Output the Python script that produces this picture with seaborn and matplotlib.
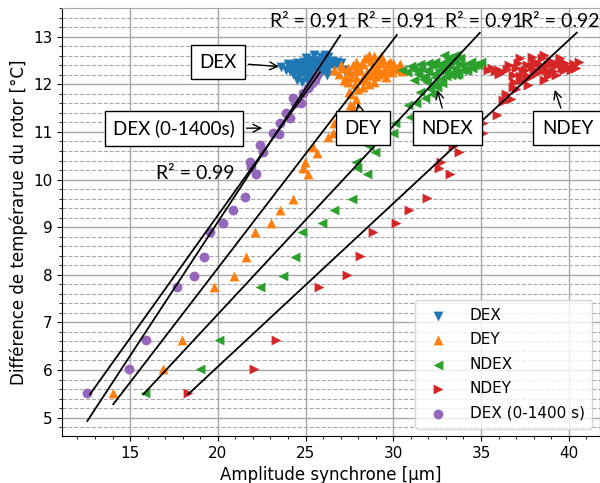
import numpy as np
import pandas as pd
import matplotlib
matplotlib.use('Agg')
import matplotlib.pyplot as plt
from matplotlib.ticker import MultipleLocator
import seaborn as sns

# --- data ---
dex_x = [23.6, 23.9, 24.1, 24.3, 24.4, 24.6, 24.7, 24.8, 24.9, 25.0, 25.1, 25.2, 25.3, 25.4,
         25.5, 25.6, 25.7, 25.8, 25.9, 26.0, 26.1, 26.2, 26.3, 26.5, 26.7, 26.9, 27.2, 24.5,
         24.8, 25.1, 25.4, 25.7, 26.0, 26.3, 25.0, 25.5, 26.0, 25.2, 25.8, 24.9]
dex_y = [12.36, 12.30, 12.28, 12.22, 12.35, 12.18, 12.30, 12.40, 12.25, 12.15, 12.32, 12.45,
         12.20, 12.38, 12.28, 12.50, 12.35, 12.42, 12.25, 12.55, 12.40, 12.47, 12.33, 12.50,
         12.42, 12.38, 12.30, 12.10, 12.05, 12.22, 12.12, 12.18, 12.30, 12.58, 12.40, 12.62,
         12.45, 12.05, 12.22, 12.48]
dex_cx = [24.2, 24.5, 24.7, 25.0, 25.3, 25.6, 25.9, 26.2, 26.4, 26.6, 24.4, 24.9, 25.3, 25.6,
          25.9, 26.1, 25.4, 25.1, 24.6, 26.8, 27.0, 25.7, 26.2, 24.0, 25.0]
dex_cy = [12.40, 12.45, 12.22, 12.35, 12.28, 12.22, 12.48, 12.30, 12.42, 12.36, 12.30, 12.20,
          12.52, 12.42, 12.58, 12.62, 12.00, 12.10, 12.38, 12.47, 12.45, 12.32, 12.20, 12.42,
          12.55]

dey_x = [14.04, 16.86, 17.94, 19.78, 20.92, 21.59, 22.10, 23.01, 23.54, 24.26, 24.83, 25.15,
         24.97, 25.44, 25.63, 26.29, 26.58, 26.62, 27.53,
         26.6, 26.9, 27.1, 27.3, 27.5, 27.7, 27.9, 28.1, 28.3, 28.5, 28.7, 28.9, 29.1, 29.3,
         29.5, 29.7, 29.9, 30.2, 30.5, 27.4, 27.8, 28.2, 28.6, 29.0, 29.4, 29.8, 28.0, 28.4,
         28.8, 27.6, 27.9, 27.7, 27.8, 27.5, 28.9, 29.2, 28.6, 29.6]
dey_y = [5.51, 6.02, 6.63, 7.74, 7.98, 8.38, 8.90, 9.08, 9.37, 9.60, 10.24, 10.12,
         10.36, 10.69, 10.56, 10.90, 10.97, 11.18, 11.57,
         12.30, 12.22, 12.35, 12.18, 12.28, 12.40, 12.15, 12.30, 12.42, 12.25, 12.50, 12.60,
         12.35, 12.45, 12.30, 12.38, 12.25, 12.32, 12.28, 12.05, 12.00, 12.12, 12.20, 12.18,
         12.52, 12.48, 11.90, 12.55, 12.35, 11.80, 11.70, 11.55, 11.45, 11.85, 12.05, 12.22,
         12.62, 12.15]
dey_cx = [27.0, 27.4, 27.8, 28.2, 28.5, 28.8, 29.1, 29.4, 29.7, 30.0, 30.3, 28.4, 28.9, 29.3,
          28.0, 27.6, 29.9, 30.4, 27.2, 28.6, 29.0, 27.9, 28.3]
dey_cy = [12.40, 12.35, 12.30, 12.45, 12.55, 12.20, 12.48, 12.25, 12.42, 12.45, 12.38, 12.10,
          12.30, 12.60, 12.38, 12.15, 12.35, 12.42, 12.10, 12.00, 12.40, 12.48, 11.95]

ndex_x = [15.85, 18.98, 20.08, 22.40, 23.70, 24.41, 24.81, 25.95, 26.62, 27.63, 28.48, 27.91,
          27.87, 28.95, 28.63, 30.00, 30.09, 30.95, 30.85,
          30.5, 30.8, 31.1, 31.4, 31.6, 31.8, 32.0, 32.2, 32.4, 32.6, 32.8, 33.0, 33.2, 33.4,
          33.6, 33.8, 34.0, 34.3, 34.6, 35.0, 31.9, 32.3, 32.7, 33.1, 33.5, 33.9, 32.5, 33.3,
          31.5, 31.8, 32.1, 31.3, 33.6, 34.2, 32.9, 31.2]
ndex_y = [5.51, 6.02, 6.63, 7.74, 7.98, 8.38, 8.90, 9.08, 9.37, 9.60, 10.12, 10.25,
          10.37, 10.57, 10.70, 10.98, 11.18, 11.32, 11.57,
          12.30, 12.25, 12.32, 12.22, 12.35, 12.18, 12.28, 12.40, 12.15, 12.30, 12.45, 12.35,
          12.50, 12.25, 12.62, 12.42, 12.38, 12.45, 12.40, 12.48, 12.05, 12.00, 12.12, 12.55,
          12.48, 12.30, 11.95, 12.20, 11.85, 11.72, 11.90, 11.60, 12.20, 12.30, 12.62, 12.10]
ndex_cx = [31.0, 31.5, 31.9, 32.3, 32.6, 32.9, 33.2, 33.5, 33.8, 34.1, 34.4, 34.8, 32.0, 32.4,
           33.0, 33.7, 31.7, 32.8, 33.4, 34.5, 32.2, 31.4, 33.0]
ndex_cy = [12.38, 12.42, 12.30, 12.22, 12.38, 12.28, 12.40, 12.35, 12.55, 12.30, 12.48, 12.40,
           12.45, 12.48, 12.18, 12.22, 12.12, 12.02, 12.60, 12.35, 11.80, 12.30, 12.40]

ndey_x = [18.32, 22.06, 23.31, 25.78, 27.34, 28.10, 28.82, 30.15, 30.91, 31.93, 33.23, 32.63,
          32.70, 33.76, 33.38, 35.09, 35.09, 35.89, 36.26,
          35.4, 35.8, 36.2, 36.5, 36.8, 37.0, 37.2, 37.4, 37.6, 37.8, 38.0, 38.2, 38.4, 38.6,
          38.8, 39.0, 39.2, 39.4, 39.6, 39.8, 40.1, 40.6, 36.9, 37.3, 37.7, 38.1, 38.5, 38.9,
          39.3, 36.4, 36.7, 37.0, 36.3, 38.6, 39.5, 37.9]
ndey_y = [5.51, 6.02, 6.63, 7.74, 7.99, 8.39, 8.90, 9.08, 9.37, 9.61, 10.12, 10.25,
          10.37, 10.57, 10.70, 10.98, 11.18, 11.36, 11.67,
          12.30, 12.28, 12.25, 12.32, 12.20, 12.35, 12.18, 12.28, 12.40, 12.15, 12.30, 12.45,
          12.35, 12.62, 12.40, 12.50, 12.38, 12.42, 12.35, 12.45, 12.30, 12.47, 12.05, 12.10,
          11.98, 12.22, 12.55, 12.25, 12.20, 11.80, 11.70, 11.90, 11.65, 12.10, 12.55, 12.58]
ndey_cx = [35.6, 36.0, 36.6, 37.1, 37.5, 37.9, 38.3, 38.7, 39.1, 39.5, 39.9, 40.3, 37.2, 38.0,
           38.8, 39.7, 36.8, 37.6, 38.4, 39.0, 36.0, 40.4]
ndey_cy = [12.35, 12.22, 12.40, 12.45, 12.30, 12.38, 12.25, 12.30, 12.28, 12.50, 12.38, 12.42,
           12.55, 12.50, 12.18, 12.30, 11.95, 12.18, 12.40, 12.45, 12.30, 12.35]

dex0_x = [12.56, 14.95, 15.91, 17.66, 18.64, 19.23, 19.55, 20.31, 20.85, 21.55, 22.17, 21.87,
          21.83, 22.55, 22.40, 23.13, 23.50, 23.54, 24.11, 23.88, 24.40, 24.72, 24.30, 24.87,
          25.15, 25.35, 25.54, 25.63]
dex0_y = [5.51, 6.02, 6.63, 7.74, 7.98, 8.38, 8.90, 9.09, 9.37, 9.63, 10.12, 10.26,
          10.37, 10.58, 10.72, 10.98, 10.96, 11.18, 11.29, 11.40, 11.60, 11.61, 11.71, 11.81,
          11.92, 12.02, 12.09, 12.20]

# linear fits: x range, slope, intercept, R²
fit_x0 = [12.56, 14.04, 15.75, 18.32, 12.71]
fit_x1 = [26.97, 30.20, 34.93, 40.46, 25.82]
fit_slope = [0.562, 0.480, 0.396, 0.343, 0.516]
fit_icpt = [-2.13, -1.46, -0.75, -0.79, -1.07]
r2_text = ['R² = 0.91', 'R² = 0.91', 'R² = 0.91', 'R² = 0.92', 'R² = 0.99']
r2_pos = [(22.95, 13.33), (27.95, 13.33), (32.95, 13.33), (37.30, 13.33), (16.5, 10.13)]

labels = ['DEX', 'DEY', 'NDEX', 'NDEY', 'DEX (0-1400 s)']
markers = ['v', '^', '<', '>', 'o']

series = [(dex_x + dex_cx, dex_y + dex_cy), (dey_x + dey_cx, dey_y + dey_cy),
          (ndex_x + ndex_cx, ndex_y + ndex_cy), (ndey_x + ndey_cx, ndey_y + ndey_cy),
          (dex0_x, dex0_y)]
colors = sns.color_palette('tab10')[:5]

fig = plt.figure(figsize=(6, 4.83), dpi=100)
ax = fig.add_axes([0.104, 0.097, 0.896, 0.886])

for (sx, sy), lab, mk, col in zip(series, labels, markers, colors):
    df = pd.DataFrame({'x': sx, 'y': sy})
    sns.scatterplot(data=df, x='x', y='y', marker=mk, color=col, s=50,
                    linewidth=0, label=lab, ax=ax, zorder=2)

for x0, x1, m, b in zip(fit_x0, fit_x1, fit_slope, fit_icpt):
    xs = np.array([x0, x1])
    ax.plot(xs, m * xs + b, color='black', lw=1.3, zorder=3)

for t, (tx, ty) in zip(r2_text, r2_pos):
    ax.text(tx, ty, t, fontsize=14, family='Lato', ha='left', va='center', zorder=4)

# boxed labels with arrows
box = dict(boxstyle='square,pad=0.45', fc='white', ec='black', lw=1)
arr = dict(arrowstyle='->', color='black', lw=1, mutation_scale=14)
ann_text = ['DEX', 'DEX (0-1400s)', 'DEY', 'NDEX', 'NDEY']
ann_xy = [(23.64, 12.37), (22.69, 11.08), (27.95, 11.67), (32.47, 11.94), (39.15, 11.94)]
ann_txt_xy = [(20.01, 12.47), (17.50, 11.08), (28.27, 11.08), (33.09, 11.08), (39.93, 11.08)]
for t, xy, txy in zip(ann_text, ann_xy, ann_txt_xy):
    ax.annotate(t, xy=xy, xytext=txy, fontsize=13.5, family='Lato', ha='center', va='center',
                bbox=box, arrowprops=arr, zorder=5, annotation_clip=False)

ax.set_xlim(11.14, 41.78)
ax.set_ylim(4.61, 13.6)
ax.xaxis.set_major_locator(MultipleLocator(5))
ax.xaxis.set_minor_locator(MultipleLocator(1))
ax.yaxis.set_major_locator(MultipleLocator(1))
ax.yaxis.set_minor_locator(MultipleLocator(0.2))
ax.grid(which='major', color='#a8a8a8', lw=1.0, zorder=0)
ax.grid(which='minor', axis='y', color='#a8a8a8', ls='--', lw=0.8, zorder=0)
ax.set_axisbelow(True)
ax.spines['top'].set_color('#a8a8a8')
ax.tick_params(labelsize=11)
ax.set_xlabel('Amplitude synchrone [µm]', fontsize=12)
ax.set_ylabel('Différence de tempérarue du rotor [°C]', fontsize=12)
ax.legend(loc='lower right', fontsize=11, framealpha=0.8, handletextpad=1.05,
          labelspacing=0.62, borderpad=0.5)

plt.savefig('out.png', dpi=100)
